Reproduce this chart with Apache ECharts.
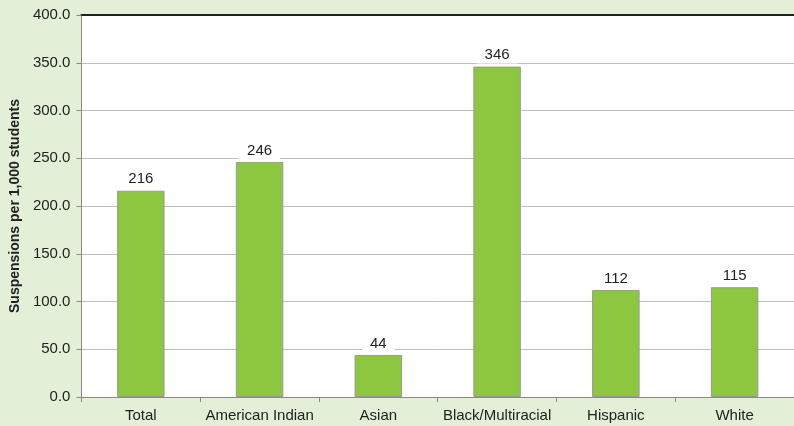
<!DOCTYPE html>
<html><head><meta charset="utf-8">
<script src="https://cdn.jsdelivr.net/npm/echarts@6/dist/echarts.min.js"></script>
<style>html,body{margin:0;padding:0;background:#e3efd6;}#c{width:794px;height:426px;}</style>
</head><body><div id="c"></div>
<script>
const categories = ['Total','American Indian','Asian','Black/Multiracial','Hispanic','White'];
const values = [216, 246, 44, 346, 112, 115];
const yTicks = {min:0, max:400, interval:50};
const yTitle = 'Suspensions per 1,000 students';

const FONT = 'Liberation Sans, Arial';
const chart = echarts.init(document.getElementById('c'));
chart.setOption({
  backgroundColor:'#e3efd6',
  animation:false,
  grid:{left:79,right:0,top:15,bottom:29,show:true,backgroundColor:'#ffffff',borderWidth:0},
  xAxis:[{
    type:'category', data:categories,
    axisLine:{lineStyle:{color:'#8a8a8a',width:1}},
    axisTick:{show:true,interval:0,length:5,lineStyle:{color:'#8a8a8a'}},
    axisLabel:{interval:0,color:'#222',fontSize:15,fontFamily:FONT,margin:11}
  },{
    type:'category', data:categories, position:'top',
    axisLine:{lineStyle:{color:'#222',width:2}},
    axisTick:{show:false}, axisLabel:{show:false}
  }],
  yAxis:{
    type:'value', min:yTicks.min, max:yTicks.max, interval:yTicks.interval,
    name:yTitle, nameLocation:'middle', nameGap:52,
    nameTextStyle:{fontWeight:'bold',fontSize:14,color:'#222',fontFamily:FONT},
    axisLine:{show:true,lineStyle:{color:'#8a8a8a'}},
    axisTick:{show:true,length:5,lineStyle:{color:'#8a8a8a'}},
    axisLabel:{color:'#222',fontSize:15,fontFamily:FONT,formatter:v=>v.toFixed(1),margin:11},
    splitLine:{lineStyle:{color:'#bdbdbd',width:1}}
  },
  series:[{
    type:'bar', data:values, barWidth:'40%',
    itemStyle:{color:'#8dc63f',borderColor:'#9a9a9a',borderWidth:1},
    label:{show:true,position:'top',distance:3,color:'#222',fontSize:15,fontFamily:FONT,
      backgroundColor:'#ffffff',padding:[1,8]}
  }]
});
</script></body></html>
